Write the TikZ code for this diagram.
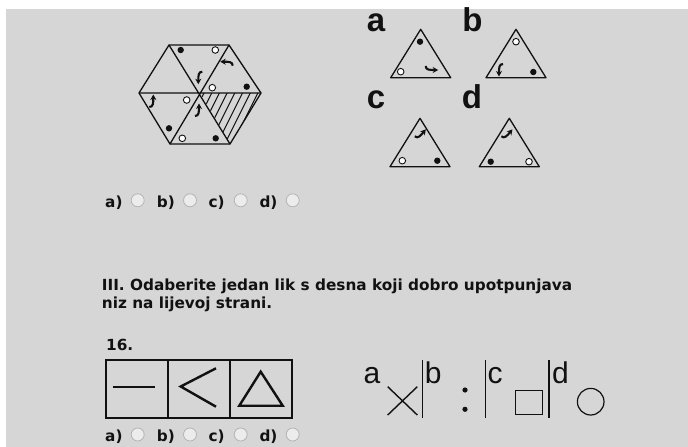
\documentclass[tikz,border=0pt]{standalone}
\usepackage{fontspec}
\setmainfont{DejaVu Sans}
\newfontfamily\letterfont{Liberation Sans}
\usepackage{tikz}
\usetikzlibrary{arrows.meta}
\definecolor{pagegrey}{RGB}{214,214,214}
\definecolor{inkblack}{RGB}{17,17,17}
\definecolor{radioedge}{RGB}{180,180,180}
\definecolor{radiofill}{RGB}{236,236,236}
\tikzset{
  figline/.style={draw=inkblack,line width=1.3pt,line join=round},
  hatchline/.style={draw=inkblack,line width=1pt},
  boxline/.style={draw=inkblack,line width=1.8pt},
  shapeline/.style={draw=inkblack,line width=2.4pt},
  thinline/.style={draw=inkblack,line width=1.4pt},
  fulldot/.style={fill=inkblack},
  emptydot/.style={draw=inkblack,fill=white,line width=0.9pt},
  curlarrow/.style={-{Stealth[length=5.5pt,width=6pt]},line width=2.1pt,
    draw=inkblack},
  answerlabel/.style={font=\bfseries\fontsize{15.3}{18}\selectfont,
    text=inkblack,inner sep=0pt},
  radiobtn/.style={circle,draw=radioedge,fill=radiofill,line width=0.8pt,
    minimum size=13pt,inner sep=0pt},
  biglabel/.style={font=\letterfont\bfseries\fontsize{33}{33}\selectfont,
    text=inkblack,inner sep=0pt},
  choicelabel/.style={font=\letterfont\fontsize{30}{30}\selectfont,
    text=inkblack,inner sep=0pt}
}
\newcommand{\curlat}[3]{%
  \draw[curlarrow,shift={(#1,#2)},rotate=#3] (-4,6) .. controls (0,6) and (0,2) .. (0,-6.5);}

\begin{document}
\begin{tikzpicture}[x=1pt,y=-1pt]
  \fill[white] (0,0) rectangle (688,447);
  \fill[pagegrey] (6,9) rectangle (688,447);
  \coordinate (hexc) at (200,93);
  \foreach \v/\px/\py in {tl/169/45, tr/229/45, r/261/93, br/230/144,
                          bl/170/144, l/139/93}
    \coordinate (hex\v) at (\px,\py);
  \begin{scope}
    \clip (hexc) -- (hexr) -- (hexbr) -- cycle;
    \foreach \k in {0,...,7}
      \draw[hatchline] (207+7.7*\k,87) -- ++(-30,60);
  \end{scope}
  \draw[figline] (hextl) -- (hextr) -- (hexr) -- (hexbr) -- (hexbl) -- (hexl) -- cycle;
  \draw[figline] (hextl) -- (hexbr) (hextr) -- (hexbl) (hexl) -- (hexr);
  \foreach \px/\py in {180.7/50, 246.7/86.7, 169/128.3, 215.7/138.3}
    \fill[fulldot] (\px,\py) circle (3.2pt);
  \foreach \px/\py in {215.3/50, 212.3/87.7, 186.7/100, 182.3/138.3}
    \draw[emptydot] (\px,\py) circle (3.3pt);
  \curlat{198.3}{77.7}{180}
  \curlat{226.7}{61.7}{90}
  \curlat{153.3}{101}{0}
  \curlat{199}{110}{0}

  \foreach \tx/\ty in {420.7/29.3, 516/29.3, 420/118.3, 509.3/118.3}
    \draw[figline] (\tx,\ty) -- (\tx-30,\ty+48.4) -- (\tx+30,\ty+48.4) -- cycle;
  \node[biglabel,anchor=base] (optA) at (376,31.7) {a};
  \node[biglabel,anchor=base] (optB) at (472.5,31.7) {b};
  \node[biglabel,anchor=base] (optC) at (376,108.3) {c};
  \node[biglabel,anchor=base] (optD) at (472,108.3) {d};
  \foreach \px/\py in {420/41.7, 533.3/72, 437.3/160.7, 490.7/161.7}
    \fill[fulldot] (\px,\py) circle (3.2pt);
  \foreach \px/\py in {400.7/71.7, 516/41.7, 402.3/160.7, 529/161.7}
    \draw[emptydot] (\px,\py) circle (3.3pt);
  \curlat{431.7}{70}{-90}
  \curlat{499}{70}{180}
  \curlat{421.7}{134.3}{-40}
  \curlat{508.3}{134.3}{-40}

  \foreach \row/\by in {1/207.3, 2/441.5}
    \foreach \opt/\lx/\rx in {a/105/137.7, b/156.7/190, c/208.3/240.7,
                              d/259.3/292.7} {
      \node[answerlabel,anchor=base west] (ans\opt\row) at (\lx,\by) {\opt)};
      \node[radiobtn] (radio\opt\row) at (\rx,\by-7) {};
    }

  \node[answerlabel,anchor=base west] (task) at (101.7,290)
    {III. Odaberite jedan lik s desna koji dobro upotpunjava};
  \node[answerlabel,anchor=base west] (taskend) at (101.7,308.3)
    {niz na lijevoj strani.};
  \node[answerlabel,anchor=base west] (qnum) at (106,350) {16.};

  \foreach \k in {0,1,2}
    \draw[boxline] (105.7+62.2*\k,360) rectangle ++(62.2,57.7);
  \draw[shapeline] (112.7,386.7) -- (155,386.7);
  \draw[shapeline] (216,368.3) -- (180.7,386.5) -- (216,406.7);
  \draw[shapeline,line join=miter] (260.7,371.7) -- (239.3,405.7) -- (282.7,405.7) -- cycle;

  \node[choicelabel,anchor=base] (candA) at (372,383) {a};
  \draw[thinline] (387.7,386.7) -- (417.3,415) (387.7,415) -- (417.3,386.7);
  \node[choicelabel,anchor=base] (candB) at (433.3,383) {b};
  \fill[fulldot] (465,390) circle (2.6pt) (465,409.3) circle (2.6pt);
  \node[choicelabel,anchor=base] (candC) at (495,383) {c};
  \draw[draw=inkblack,line width=1pt] (515,390.7) rectangle (542.3,414.3);
  \node[choicelabel,anchor=base] (candD) at (560.5,383) {d};
  \draw[draw=inkblack,line width=1.2pt] (590.7,401.7) circle (13.3pt);
  \foreach \dx in {422.7, 485.7, 549}
    \draw[thinline] (\dx,360) -- (\dx,417.7);
\end{tikzpicture}
\end{document}
